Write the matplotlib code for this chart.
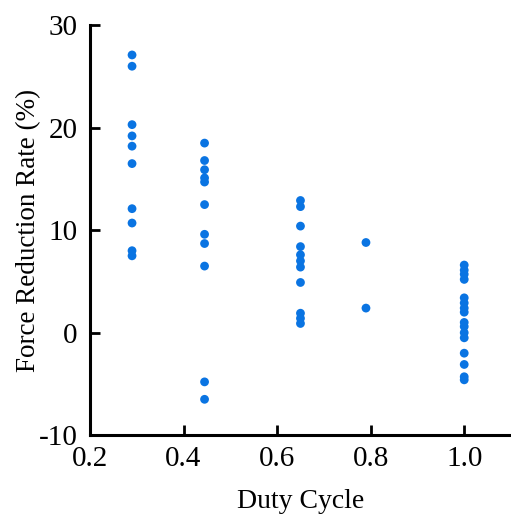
import numpy as np
import matplotlib.pyplot as plt

plt.rcParams['font.family'] = 'Liberation Serif'
plt.rcParams['axes.unicode_minus'] = False

# force reduction rate measured at each duty cycle
duty = [0.29, 0.445, 0.65, 0.79, 1.0]
rate_029 = [27.1, 26.0, 20.3, 19.2, 18.2, 16.5, 12.1, 10.7, 8.0, 7.5]
rate_045 = [18.5, 16.8, 15.9, 15.1, 14.7, 12.5, 9.6, 8.7, 6.5, -4.8, -6.5]
rate_065 = [12.9, 12.3, 10.4, 8.4, 7.6, 7.0, 6.4, 4.9, 1.9, 1.4, 0.9]
rate_079 = [8.8, 2.4]
rate_100 = [6.6, 6.1, 5.7, 5.2, 3.4, 2.9, 2.4, 2.0, 1.0, 0.6, 0.0, -0.5,
            -2.0, -3.1, -4.3, -4.6]
groups = [rate_029, rate_045, rate_065, rate_079, rate_100]

fig = plt.figure(figsize=(5.11, 5.15), dpi=100)
ax = fig.add_axes([0.176, 0.155, 0.824, 0.796])

for d, vals in zip(duty, groups):
    ax.scatter(np.full(len(vals), d), vals, s=40, color='#0a74e2',
               edgecolors='none', zorder=3)

ax.set_xlim(0.2, 1.1)
ax.set_ylim(-10, 30)
ax.set_xticks([0.2, 0.4, 0.6, 0.8, 1.0])
ax.set_yticks([-10, 0, 10, 20, 30])
ax.spines['top'].set_visible(False)
ax.spines['right'].set_visible(False)
for s in ['left', 'bottom']:
    ax.spines[s].set_linewidth(2.2)
ax.tick_params(direction='in', length=7, width=2, labelsize=21)
ax.tick_params(axis='x', pad=8)
ax.tick_params(axis='y', pad=9)
ax.set_xlabel('Duty Cycle', fontsize=20, labelpad=12)
ax.set_ylabel('Force Reduction Rate (%)', fontsize=19.5, labelpad=-2)

fig.savefig('out.png', dpi=100)
